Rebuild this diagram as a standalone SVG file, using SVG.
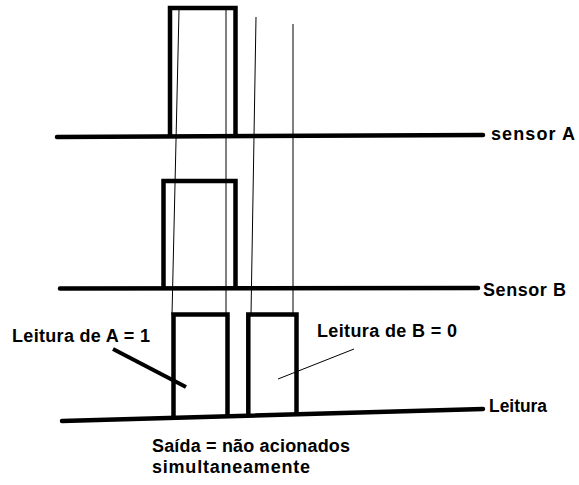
<svg xmlns="http://www.w3.org/2000/svg" width="579" height="485" viewBox="0 0 579 485">
<style>
.thick{fill:none;stroke:#000;stroke-width:4.5;stroke-linecap:butt}
.base{fill:none;stroke:#000;stroke-width:4.5;stroke-linecap:round}
.thin{fill:none;stroke:#000;stroke-width:1}
.lbl{font-family:"Liberation Sans",Arial,sans-serif;font-weight:bold;font-size:18px;fill:#000}
</style>
<rect width="579" height="485" fill="#fff"/>
<g id="connectors">
<line class="thin" x1="179" y1="10" x2="172" y2="315"/>
<line class="thin" x1="226" y1="10" x2="226" y2="315"/>
<line class="thin" x1="256" y1="17" x2="251" y2="315"/>
<line class="thin" x1="293" y1="24" x2="293" y2="315"/>
<line class="thick" x1="113" y1="349" x2="186" y2="387" style="stroke-width:4"/>
<line class="thin" x1="354" y1="349" x2="278" y2="379"/>
</g>
<g id="sensorA">
<line class="base" x1="57" y1="137" x2="483" y2="135"/>
<polyline class="thick" points="170,135 170,8 235.5,8 235.5,137"/>
<text class="lbl" x="491" y="140" textLength="84" lengthAdjust="spacing">sensor A</text>
</g>
<g id="sensorB">
<line class="base" x1="60" y1="288.5" x2="478" y2="288"/>
<polyline class="thick" points="163.5,288 163.5,181 235.5,181 235.5,288"/>
<text class="lbl" x="483" y="296" textLength="83" lengthAdjust="spacing">Sensor B</text>
</g>
<g id="leitura">
<line class="base" x1="62" y1="421" x2="483" y2="409"/>
<polyline class="thick" points="173.5,418 173.5,314.5 227.5,314.5 227.5,416"/>
<polyline class="thick" points="248.3,416 248.3,314.5 296.5,314.5 296.5,414"/>
<text class="lbl" x="489" y="412" textLength="58" lengthAdjust="spacingAndGlyphs">Leitura</text>
</g>
<g id="labelA">
<text class="lbl" x="12" y="342" textLength="138" lengthAdjust="spacing">Leitura de A = 1</text>
</g>
<g id="labelB">
<text class="lbl" x="317" y="337" textLength="140" lengthAdjust="spacing">Leitura de B = 0</text>
</g>
<g id="saida">
<text class="lbl" x="152" y="452" textLength="198" lengthAdjust="spacing">Saída = não acionados</text>
<text class="lbl" x="152" y="473" textLength="158" lengthAdjust="spacing">simultaneamente</text>
</g>
</svg>
